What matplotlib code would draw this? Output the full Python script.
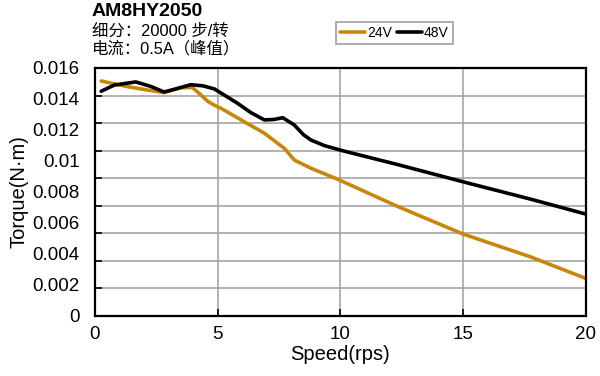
import matplotlib
matplotlib.use("Agg")
import matplotlib.pyplot as plt
import numpy as np

plt.rcParams['font.family'] = ['Liberation Sans', 'Noto Sans CJK SC', 'DejaVu Sans']

# speed (rps) and torque (N.m)
speed_24v = [0.26, 1.32, 2.14, 2.82, 3.5, 3.98, 4.3, 4.6, 4.87, 5.2, 5.96, 6.91, 7.72,
             8.13, 8.81, 9.9, 12.29, 15, 17.73, 20]
torque_24v = [0.01516, 0.01480, 0.01458, 0.01441, 0.01473, 0.01473, 0.01430, 0.01385,
              0.01360, 0.01335, 0.01265, 0.01179, 0.01082, 0.01006, 0.00953, 0.00882,
              0.00710, 0.00529, 0.00383, 0.00243]

speed_48v = [0.26, 0.8, 1.67, 2.3, 2.82, 3.3, 3.91, 4.4, 4.87, 5.27, 5.82, 6.36, 6.91,
             7.3, 7.66, 8.13, 8.5, 8.81, 9.36, 10.1, 12.29, 15, 17.73, 20]
torque_48v = [0.01450, 0.01490, 0.01510, 0.01480, 0.01445, 0.01465, 0.01492, 0.01485,
              0.01465, 0.01426, 0.01372, 0.01312, 0.01265, 0.01268, 0.01279, 0.01232,
              0.01170, 0.01135, 0.01099, 0.01066, 0.00979, 0.00866, 0.00755, 0.00658]

x_ticks = [0, 5, 10, 15, 20]
y_ticks = [0, 0.002, 0.004, 0.006, 0.008, 0.01, 0.012, 0.014, 0.016]
y_labels = ['0', '0.002', '0.004', '0.006', '0.008', '0.01', '0.012', '0.014', '0.016']

orange = '#C8870A'
grid_grey = '#a6a6a6'

fig = plt.figure(figsize=(6, 3.76), dpi=100)
ax = fig.add_axes([0.158, 0.1596, 0.818, 0.6596])

l1, = ax.plot(speed_24v, torque_24v, color=orange, lw=2.6, solid_joinstyle='round',
              solid_capstyle='round', label='24V')
l2, = ax.plot(speed_48v, torque_48v, color='black', lw=2.6, solid_joinstyle='round',
              solid_capstyle='round', label='48V')

ax.set_xlim(0, 20)
ax.set_ylim(0, 0.016)

ax.set_xticks(x_ticks)
ax.set_xticklabels([str(v) for v in x_ticks])
ax.set_yticks(y_ticks)
ax.set_yticklabels(y_labels)
# gridlines in the original use 9 equal bands
ax.set_yticks(np.linspace(0, 0.016, 10)[1:-1], minor=True)

ax.tick_params(axis='x', which='major', direction='in', length=5, width=1.2,
               labelsize=13.5, pad=7)
ax.tick_params(axis='y', which='major', length=0, labelsize=13.5, pad=11)
ax.tick_params(axis='y', which='minor', direction='in', length=5, width=1.2)
ax.grid(True, axis='x', which='major', color=grid_grey, lw=1.2)
ax.grid(True, axis='y', which='minor', color=grid_grey, lw=1.2)
ax.set_axisbelow(True)
for s in ax.spines.values():
    s.set_linewidth(1.6)

ax.set_xlabel('Speed(rps)', fontsize=14.5, labelpad=2)
ax.set_ylabel('Torque(N·m)', fontsize=14.5, labelpad=3)

fig.text(0.153, 1 - 11 / 376, 'AM8HY2050', fontsize=14, fontweight='bold', va='center')
fig.text(0.153, 1 - 31 / 376, '细分：20000 步/转', fontsize=11.8, va='center')
fig.text(0.153, 1 - 49 / 376, '电流：0.5A（峰值）', fontsize=11.8, va='center')

leg = fig.legend(handles=[l1, l2], loc='center', bbox_to_anchor=(0.6575, 0.912), ncol=2,
                 prop={'size': 10}, handlelength=1.8, handletextpad=0.15,
                 columnspacing=0.35, borderpad=0.3, fancybox=False, framealpha=1)
leg.get_frame().set_edgecolor('#a0a0a0')
leg.get_frame().set_linewidth(1.2)

fig.savefig('out.png', dpi=100)
